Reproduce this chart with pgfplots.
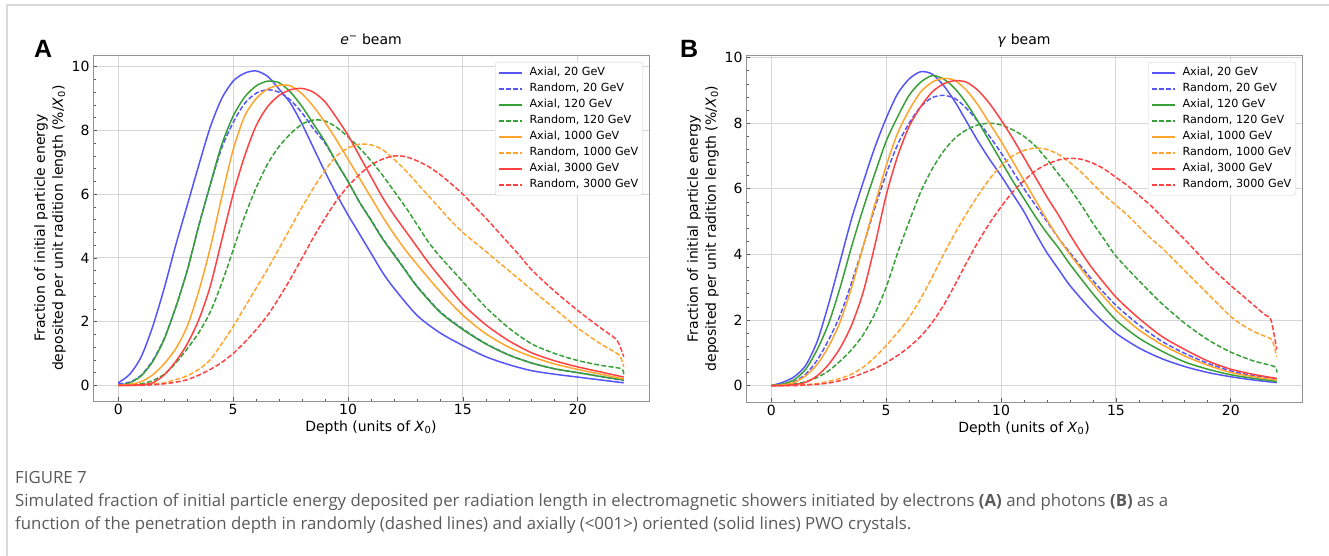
\documentclass[border=0pt]{standalone}
\usepackage{fontspec}
\setmainfont{DejaVu Sans}
\newfontfamily\capfont{Open Sans}
\newfontfamily\letterfont{Liberation Sans}
\usepackage{pgfplots}
\pgfplotsset{compat=1.18}

\definecolor{cb}{RGB}{85,85,250}
\definecolor{cg}{RGB}{55,160,55}
\definecolor{co}{RGB}{255,165,45}
\definecolor{cr}{RGB}{255,65,65}
\definecolor{capgray}{RGB}{90,90,90}

\pgfplotsset{
  panel/.style={
    width=556pt, height=346pt, scale only axis,
    xmin=-1.1, xmax=23.1,
    xtick={0,5,10,15,20}, minor x tick num=4,
    ytick={0,2,4,6,8,10}, minor y tick num=4,
    tick align=inside, xtick pos=bottom, ytick pos=left,
    major tick length=4pt, minor tick length=2.5pt,
    grid=major, major grid style={draw=black!16, line width=0.9pt},
    axis line style={draw=gray!85, line width=0.9pt},
    every tick/.style={draw=gray!70!black, line width=0.7pt},
    tick label style={font=\fontsize{14}{16}\selectfont},
    /pgf/number format/assume math mode=true,
    xlabel={Depth (units of \textit{X}\textsubscript{0})},
    xlabel style={font=\fontsize{14}{16}\selectfont, at={(axis description cs:0.5,0)}, anchor=north, yshift=-16pt},
    ylabel={Fraction of initial particle energy\\deposited per unit radition length (\%/\textit{X}\textsubscript{0})},
    ylabel style={font=\fontsize{14}{18}\selectfont, align=center, at={(axis description cs:-0.0773,0.5)}, anchor=center},
    title style={font=\fontsize{14}{16}\selectfont, at={(axis description cs:0.5,1)}, anchor=base, yshift=4pt},
    legend cell align=left,
    legend image code/.code={\draw[#1, line width=1.8pt] (0pt,0pt) -- (23pt,0pt);},
    legend style={font=\fontsize{11.2}{13}\selectfont, draw=black!18, rounded corners=2.5pt,
      at={(rel axis cs:1,1)}, anchor=north east, xshift=-6pt, yshift=-7pt,
      inner xsep=2.5pt, inner ysep=3pt, row sep=1pt, column sep=5pt,
      nodes={inner sep=2pt, text height=8.5pt, text depth=2.5pt}},
  },
  ax/.style={line width=1.5pt, smooth, tension=0.45},
  rn/.style={line width=1.5pt, smooth, tension=0.45, dash pattern=on 5pt off 2.2pt},
}

\begin{document}
\begin{tikzpicture}
\useasboundingbox (0,0) rectangle (1329pt,-556pt);
\draw[black!14, line width=1.5pt] (7pt,-556pt) -- (7pt,-5pt) -- (1329pt,-5pt);

\node[anchor=base west, inner sep=0pt, font=\letterfont\bfseries\fontsize{25}{28}\selectfont] at (34pt,-58pt) {A};
\node[anchor=base west, inner sep=0pt, font=\letterfont\bfseries\fontsize{25}{28}\selectfont] at (680pt,-58pt) {B};

% ---------------- panel A: electron beam ----------------
\begin{axis}[panel, at={(93pt,-55pt)}, anchor=north west,
  ymin=-0.49, ymax=10.37,
  title={\textit{e}\textsuperscript{−} beam}]
\addplot[ax, cb] coordinates {
(0,0.08)(0.5,0.35)(1,0.9)(1.5,1.85)(2,3.05)(2.5,4.4)(3,5.65)(3.5,6.9)(4,8.1)(4.5,9.0)(5,9.55)(5.5,9.8)(6,9.87)(6.5,9.7)(7,9.3)(7.5,8.85)(8,8.2)(8.5,7.45)(9,6.7)(9.5,6.0)(10,5.35)(10.5,4.75)(11,4.15)(11.5,3.55)(12,3.05)(13,2.2)(14,1.65)(15,1.25)(16,0.9)(17,0.65)(18,0.46)(19,0.35)(20,0.26)(21,0.17)(22,0.08)};
\addlegendentry{Axial, 20 GeV}
\addplot[rn, cb] coordinates {
(0,0.05)(0.5,0.1)(1,0.32)(1.5,0.78)(2,1.47)(2.5,2.45)(3,3.6)(3.5,5.0)(4,6.28)(4.5,7.45)(5,8.25)(5.5,8.85)(6,9.17)(6.5,9.28)(7,9.2)(7.5,8.95)(8,8.55)(8.5,8.05)(9,7.6)(9.5,7.0)(10,6.4)(10.5,5.75)(11,5.2)(11.5,4.62)(12,4.12)(12.5,3.62)(13,3.12)(14,2.32)(15,1.77)(16,1.31)(17,0.96)(18,0.7)(19,0.52)(20,0.4)(21,0.28)(22,0.15)};
\addlegendentry{Random, 20 GeV}
\addplot[ax, cg] coordinates {
(0,0)(0.5,0.08)(1,0.3)(1.5,0.75)(2,1.45)(2.5,2.45)(3,3.6)(3.5,5.0)(4,6.3)(4.5,7.55)(5,8.45)(5.5,9.05)(6,9.4)(6.5,9.55)(7,9.5)(7.5,9.2)(8,8.75)(8.5,8.2)(9,7.65)(9.5,7.0)(10,6.4)(10.5,5.75)(11,5.18)(11.5,4.6)(12,4.1)(12.5,3.6)(13,3.1)(14,2.3)(15,1.75)(16,1.3)(17,0.95)(18,0.7)(19,0.52)(20,0.4)(21,0.28)(22,0.17)};
\addlegendentry{Axial, 120 GeV}
\addplot[rn, cg] coordinates {
(0,0)(0.5,0.01)(1,0.05)(1.5,0.15)(2,0.35)(2.5,0.7)(3,1.15)(3.5,1.65)(4,2.3)(4.5,3.2)(5,4.25)(5.5,5.3)(6,6.2)(6.5,6.95)(7,7.5)(7.5,7.9)(8,8.2)(8.5,8.33)(9,8.3)(9.5,8.1)(10,7.8)(10.5,7.45)(11,7.05)(11.5,6.6)(12,6.1)(12.5,5.6)(13,5.05)(13.5,4.5)(14,4.05)(15,3.25)(16,2.45)(17,1.8)(18,1.3)(19,1.0)(20,0.78)(21,0.63)(21.9,0.52)(22,0.3)};
\addlegendentry{Random, 120 GeV}
\addplot[ax, co] coordinates {
(0,0)(0.5,0.03)(1,0.12)(1.5,0.33)(2,0.68)(2.5,1.15)(3,1.85)(3.5,2.95)(4,4.3)(4.5,5.9)(5,7.4)(5.5,8.45)(6,9.0)(6.5,9.3)(7,9.42)(7.5,9.4)(8,9.15)(8.5,8.75)(9,8.25)(9.5,7.7)(10,7.1)(10.5,6.5)(11,5.9)(11.5,5.3)(12,4.75)(12.5,4.25)(13,3.8)(14,2.95)(15,2.2)(16,1.62)(17,1.2)(18,0.9)(19,0.67)(20,0.5)(21,0.35)(22,0.2)};
\addlegendentry{Axial, 1000 GeV}
\addplot[rn, co] coordinates {
(0,0)(1,0.01)(1.5,0.04)(2,0.08)(2.5,0.18)(3,0.3)(3.5,0.5)(4,0.8)(4.5,1.3)(5,1.85)(5.5,2.45)(6,3.05)(6.5,3.65)(7,4.3)(7.5,4.95)(8,5.6)(8.5,6.2)(9,6.75)(9.5,7.2)(10,7.45)(10.5,7.57)(11,7.55)(11.5,7.4)(12,7.1)(12.5,6.75)(13,6.35)(13.5,5.95)(14,5.55)(14.5,5.15)(15,4.8)(15.5,4.5)(16,4.2)(17,3.6)(18,3.0)(19,2.4)(20,1.8)(21,1.3)(21.8,0.95)(22,0.58)};
\addlegendentry{Random, 1000 GeV}
\addplot[ax, cr] coordinates {
(0,0)(0.5,0)(1,0.02)(1.5,0.08)(2,0.33)(2.5,0.75)(3,1.3)(3.5,2.05)(4,3.1)(4.5,4.55)(5,6.0)(5.5,7.2)(6,8.15)(6.5,8.75)(7,9.1)(7.5,9.28)(8,9.32)(8.5,9.2)(9,8.9)(9.5,8.4)(10,7.85)(10.5,7.2)(11,6.55)(11.5,5.9)(12,5.35)(12.5,4.85)(13,4.35)(13.5,3.85)(14,3.4)(15,2.55)(16,1.9)(17,1.4)(18,1.02)(19,0.77)(20,0.58)(21,0.42)(22,0.26)};
\addlegendentry{Axial, 3000 GeV}
\addplot[rn, cr] coordinates {
(0,0)(1,0)(1.5,0.02)(2,0.05)(2.5,0.1)(3,0.18)(3.5,0.32)(4,0.5)(4.5,0.72)(5,1.0)(5.5,1.35)(6,1.75)(6.5,2.2)(7,2.75)(7.5,3.35)(8,4.0)(8.5,4.65)(9,5.25)(9.5,5.8)(10,6.25)(10.5,6.62)(11,6.92)(11.5,7.1)(12,7.2)(12.5,7.18)(13,7.05)(13.5,6.87)(14,6.62)(14.5,6.32)(15,6.0)(15.5,5.62)(16,5.25)(16.5,4.85)(17,4.45)(17.5,4.05)(18,3.62)(19,2.95)(20,2.35)(21,1.8)(21.7,1.42)(22,0.9)};
\addlegendentry{Random, 3000 GeV}
\end{axis}

% ---------------- panel B: photon beam ----------------
\begin{axis}[panel, at={(746pt,-55pt)}, anchor=north west, height=347pt,
  ymin=-0.5, ymax=10.08,
  title={\textit{γ} beam}]
\addplot[ax, cb] coordinates {
(0,0)(0.5,0.1)(1,0.27)(1.5,0.62)(2,1.35)(2.5,2.5)(3,3.8)(3.5,5.1)(4,6.2)(4.5,7.25)(5,8.15)(5.5,8.9)(6,9.35)(6.5,9.57)(7,9.5)(7.5,9.15)(8,8.65)(8.5,8.05)(9,7.45)(9.5,6.9)(10,6.4)(10.5,5.85)(11,5.3)(11.5,4.65)(12,4.05)(12.5,3.55)(13,3.05)(14,2.25)(15,1.6)(16,1.15)(17,0.82)(18,0.58)(19,0.4)(20,0.27)(21,0.17)(22,0.09)};
\addlegendentry{Axial, 20 GeV}
\addplot[rn, cb] coordinates {
(0,0)(0.5,0.03)(1,0.12)(1.5,0.35)(2,0.78)(2.5,1.4)(3,2.15)(3.5,3.15)(4,4.25)(4.5,5.4)(5,6.45)(5.5,7.35)(6,8.0)(6.5,8.5)(7,8.78)(7.5,8.85)(8,8.75)(8.5,8.45)(9,8.05)(9.5,7.6)(10,7.1)(10.5,6.55)(11,6.0)(11.5,5.5)(12,5.0)(12.5,4.5)(13,4.05)(14,3.2)(15,2.45)(16,1.85)(17,1.35)(18,0.98)(19,0.68)(20,0.45)(21,0.3)(22,0.2)};
\addlegendentry{Random, 20 GeV}
\addplot[ax, cg] coordinates {
(0,0)(0.5,0.05)(1,0.18)(1.5,0.5)(2,1.1)(2.5,1.9)(3,3.0)(3.5,4.25)(4,5.4)(4.5,6.45)(5,7.45)(5.5,8.2)(6,8.85)(6.5,9.25)(7,9.45)(7.5,9.35)(8,9.05)(8.5,8.6)(9,8.05)(9.5,7.45)(10,6.85)(10.5,6.25)(11,5.7)(11.5,5.15)(12,4.65)(12.5,4.2)(13,3.7)(14,2.8)(15,2.0)(16,1.45)(17,1.05)(18,0.72)(19,0.5)(20,0.33)(21,0.22)(22,0.13)};
\addlegendentry{Axial, 120 GeV}
\addplot[rn, cg] coordinates {
(0,0)(1,0.05)(1.5,0.12)(2,0.25)(2.5,0.45)(3,0.75)(3.5,1.1)(4,1.55)(4.5,2.18)(5,3.0)(5.5,4.05)(6,5.0)(6.5,5.9)(7,6.6)(7.5,7.15)(8,7.55)(8.5,7.8)(9,7.95)(9.5,8.0)(10,7.95)(10.5,7.8)(11,7.6)(11.5,7.3)(12,6.9)(12.5,6.45)(13,6.0)(13.5,5.5)(14,4.95)(14.5,4.45)(15,3.95)(16,3.2)(17,2.5)(18,1.9)(19,1.4)(20,1.02)(21,0.75)(21.9,0.58)(22,0.4)};
\addlegendentry{Random, 120 GeV}
\addplot[ax, co] coordinates {
(0,0)(0.5,0.02)(1,0.1)(1.5,0.3)(2,0.65)(2.5,1.2)(3,1.95)(3.5,3.0)(4,4.25)(4.5,5.5)(5,6.7)(5.5,7.7)(6,8.4)(6.5,8.95)(7,9.25)(7.5,9.37)(8,9.3)(8.5,9.0)(9,8.55)(9.5,8.0)(10,7.45)(10.5,6.85)(11,6.25)(11.5,5.65)(12,5.05)(12.5,4.5)(13,4.0)(14,3.1)(15,2.3)(16,1.7)(17,1.25)(18,0.9)(19,0.62)(20,0.4)(21,0.27)(22,0.17)};
\addlegendentry{Axial, 1000 GeV}
\addplot[rn, co] coordinates {
(0,0)(1,0.01)(1.5,0.03)(2,0.06)(2.5,0.13)(3,0.22)(3.5,0.35)(4,0.56)(4.5,0.86)(5,1.22)(5.5,1.62)(6,2.08)(6.5,2.65)(7,3.3)(7.5,4.0)(8,4.65)(8.5,5.25)(9,5.8)(9.5,6.3)(10,6.7)(10.5,7.0)(11,7.17)(11.5,7.24)(12,7.2)(12.5,7.05)(13,6.8)(13.5,6.5)(14,6.15)(14.5,5.8)(15,5.5)(15.5,5.2)(16,4.85)(16.5,4.5)(17,4.2)(17.5,3.85)(18,3.5)(18.5,3.15)(19,2.8)(19.5,2.45)(20,2.1)(20.5,1.85)(21,1.65)(21.5,1.5)(21.8,1.39)(22,0.88)};
\addlegendentry{Random, 1000 GeV}
\addplot[ax, cr] coordinates {
(0,0)(0.5,0)(1,0.03)(1.5,0.1)(2,0.3)(2.5,0.65)(3,1.15)(3.5,1.85)(4,2.85)(4.5,4.25)(5,5.8)(5.5,7.0)(6,7.9)(6.5,8.5)(7,8.95)(7.5,9.2)(8,9.3)(8.5,9.25)(9,9.0)(9.5,8.6)(10,8.1)(10.5,7.55)(11,6.95)(11.5,6.35)(12,5.75)(12.5,5.2)(13,4.6)(13.5,4.05)(14,3.55)(15,2.7)(16,2.05)(17,1.5)(18,1.1)(19,0.75)(20,0.5)(21,0.34)(22,0.22)};
\addlegendentry{Axial, 3000 GeV}
\addplot[rn, cr] coordinates {
(0,0)(1,0)(1.5,0.02)(2,0.04)(2.5,0.08)(3,0.15)(3.5,0.25)(4,0.38)(4.5,0.52)(5,0.7)(5.5,0.92)(6,1.18)(6.5,1.5)(7,1.92)(7.5,2.45)(8,3.08)(8.5,3.75)(9,4.38)(9.5,4.95)(10,5.45)(10.5,5.9)(11,6.25)(11.5,6.55)(12,6.75)(12.5,6.88)(13,6.93)(13.5,6.9)(14,6.78)(14.5,6.6)(15,6.35)(15.5,6.1)(16,5.8)(16.5,5.5)(17,5.15)(17.5,4.8)(18,4.45)(18.5,4.08)(19,3.7)(19.5,3.37)(20,3.05)(20.5,2.75)(21,2.45)(21.5,2.15)(21.75,2.0)(22,1.1)};
\addlegendentry{Random, 3000 GeV}
\end{axis}

% ---------------- caption ----------------
\begin{scope}[every node/.style={anchor=base west, inner sep=0pt, text=capgray, font=\capfont\fontsize{16.8}{19}\selectfont}]
\node at (15pt,-483pt) {FIGURE 7};
\node at (15pt,-506pt) {Simulated fraction of initial particle energy deposited per radiation length in electromagnetic showers initiated by electrons \textbf{(A)} and photons \textbf{(B)} as a};
\node at (15pt,-529pt) {function of the penetration depth in randomly (dashed lines) and axially (<001>) oriented (solid lines) PWO crystals.};
\end{scope}
\end{tikzpicture}
\end{document}
